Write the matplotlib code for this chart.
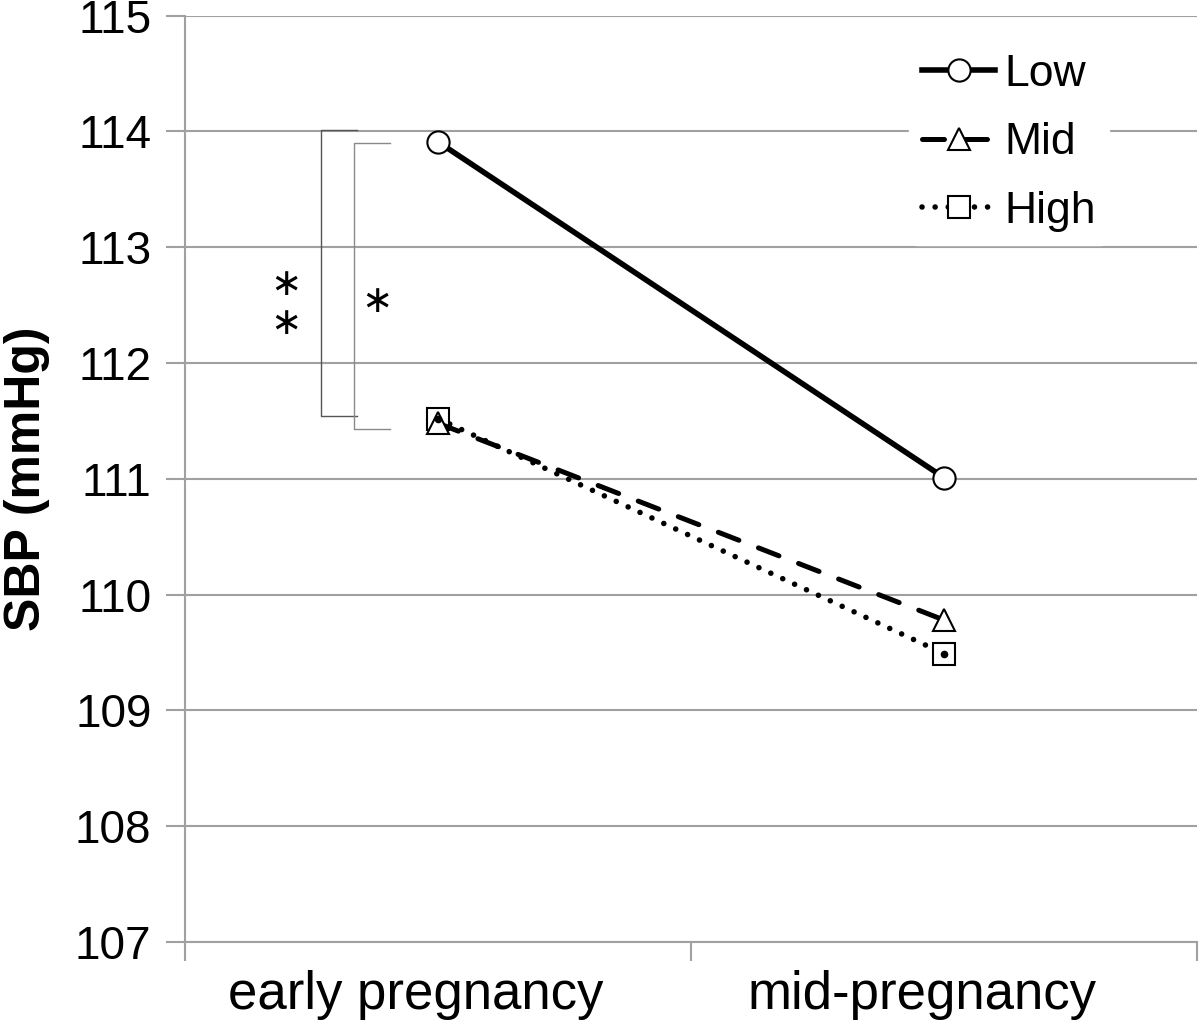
import matplotlib
matplotlib.use("Agg")
import matplotlib.pyplot as plt
from matplotlib.transforms import ScaledTranslation

plt.rcParams["font.family"] = ["Liberation Sans", "DejaVu Sans"]

# data
periods = ["early pregnancy", "mid-pregnancy"]
x_pos = [0.5, 1.5]
sbp_low = [113.91, 111.01]
sbp_mid = [111.48, 109.78]
sbp_high = [111.52, 109.49]
y_ticks = [107, 108, 109, 110, 111, 112, 113, 114, 115]

# significance brackets: (x of vertical, x end of ticks, y top, y bottom)
bracket_a = (0.269, 0.34, 114.01, 111.54)
bracket_b = (0.334, 0.405, 113.90, 111.43)

fig = plt.figure(figsize=(12, 10.31), dpi=100)
ax = fig.add_axes([0.154, 0.0864, 0.8435, 0.8985])

grid_col = "#a0a0a0"
ax.set_xlim(0, 2)
ax.set_ylim(107, 115)
ax.set_yticks(y_ticks)
ax.set_yticklabels([str(v) for v in y_ticks], fontsize=33)
ax.set_xticks([0, 1, 2])
ax.set_xticklabels([])
ax.set_xticks(x_pos, minor=True)
ax.set_xticklabels(periods, minor=True, fontsize=38)
ax.tick_params(axis="x", which="minor", length=0, pad=20)
ax.tick_params(axis="x", which="major", length=14, width=1.5, color=grid_col)
ax.tick_params(axis="y", length=14, width=1.5, color=grid_col, pad=10)
# Excel-style category labels sit a little left of the category centre
shift = ScaledTranslation(-0.22, 0, fig.dpi_scale_trans)
for lab in ax.get_xticklabels(minor=True):
    lab.set_transform(lab.get_transform() + shift)
ax.grid(axis="y", color=grid_col, linewidth=1.5)
ax.set_axisbelow(True)
for side in ["top", "right"]:
    ax.spines[side].set_visible(False)
for side in ["left", "bottom"]:
    ax.spines[side].set_color(grid_col)
    ax.spines[side].set_linewidth(1.5)

ax.set_ylabel("SBP (mmHg)", fontsize=36, fontweight="bold")
ax.yaxis.set_label_coords(-0.133, 0.5)

ms = 16
ax.plot(x_pos, sbp_high, color="black", lw=4.0, linestyle=(0, (0.01, 2.35)),
        dash_capstyle="round", marker="s", ms=ms, mfc="white", mec="black",
        mew=1.5, label="High", zorder=3)
ax.plot(x_pos, sbp_mid, color="black", lw=3.6, linestyle=(0, (4.4, 4.2)),
        dash_capstyle="round", marker="^", ms=ms, mfc="white", mec="black",
        mew=1.5, label="Mid", zorder=4)
ax.plot(x_pos, sbp_low, color="black", lw=4.0, marker="o", ms=ms,
        mfc="white", mec="black", mew=1.5, label="Low", zorder=5)
# dot inside the High squares
ax.plot(x_pos, sbp_high, linestyle="none", marker="o", ms=4.5,
        color="black", zorder=6)

h, l = ax.get_legend_handles_labels()
order = [2, 1, 0]
leg = ax.legend([h[i] for i in order], [l[i] for i in order],
                loc="upper right", bbox_to_anchor=(0.935, 0.997), fontsize=32,
                frameon=True, framealpha=1, edgecolor="white",
                handlelength=1.65, handletextpad=0.2, labelspacing=0.62,
                borderpad=0.3)

for (xv, xe, yt, yb), col in [(bracket_a, "#555555"), (bracket_b, "#8a8a8a")]:
    ax.plot([xe, xv, xv, xe], [yt, yt, yb, yb], color=col, lw=1.0, zorder=2)

star_kw = dict(fontsize=27, ha="center", va="center")
ax.text(0.196, 112.67, r"$\ast$", **star_kw)
ax.text(0.196, 112.34, r"$\ast$", **star_kw)
ax.text(0.377, 112.53, r"$\ast$", **star_kw)

fig.savefig("out.png", dpi=100)
